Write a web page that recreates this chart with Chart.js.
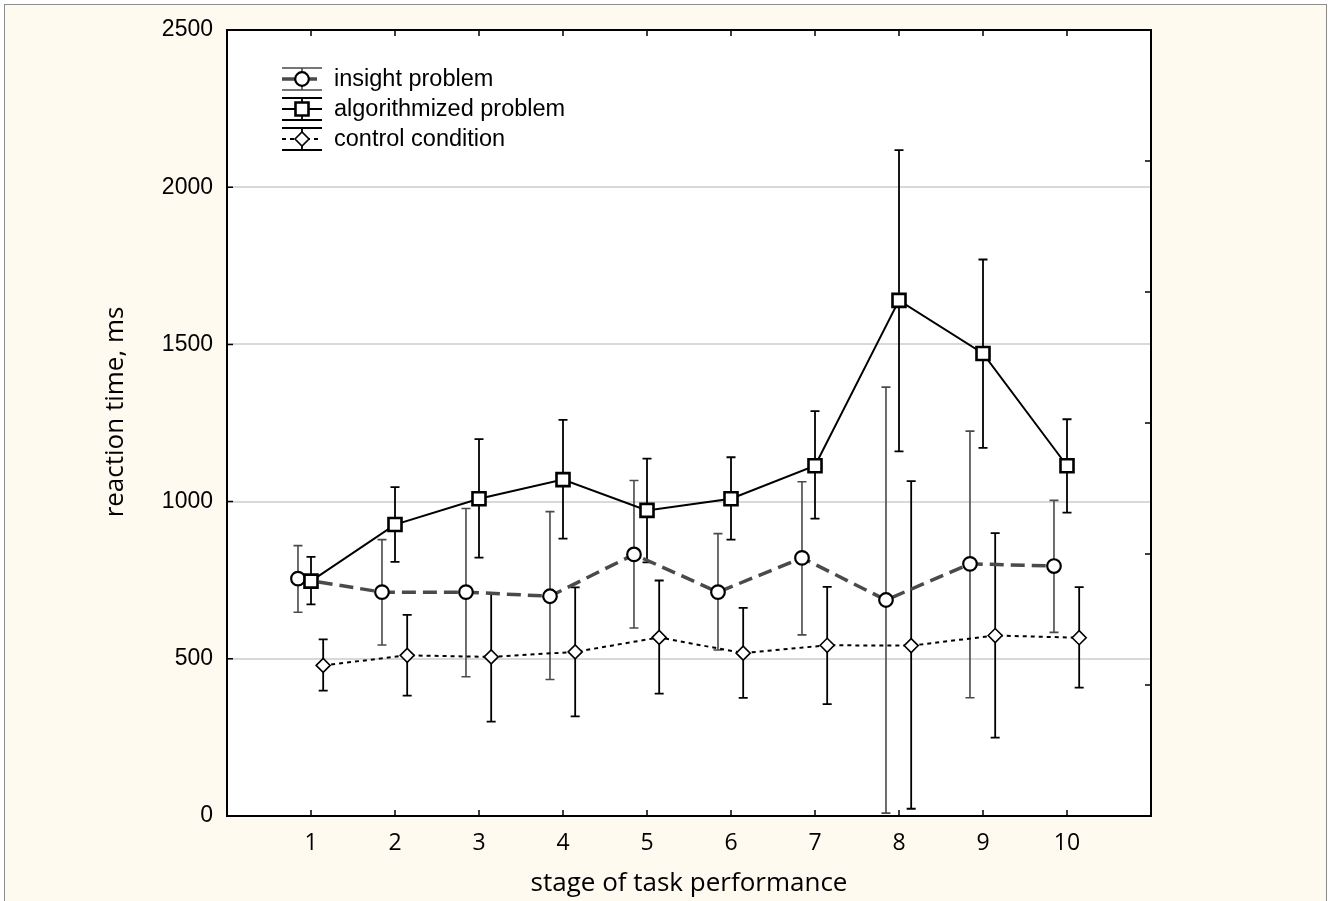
<!DOCTYPE html>
<html>
<head>
<meta charset="utf-8">
<script src="https://cdn.jsdelivr.net/npm/chart.js@4.4.1/dist/chart.umd.min.js"></script>
<style>
  html, body { margin: 0; padding: 0; background: #fff; }
  #frame { position: absolute; left: 4px; top: 4px; width: 1323px; height: 897px; background: #fffaef; border: 1px solid #8c8c8c; border-bottom: none; box-sizing: border-box; }
  #wrap { position: absolute; left: 0; top: 0; width: 1328px; height: 901px; }
</style>
</head>
<body>
<div id="frame"></div>
<div id="wrap"><canvas id="chart" width="1328" height="901"></canvas></div>
<script>
// stages on the x axis
const stages = [1, 2, 3, 4, 5, 6, 7, 8, 9, 10];
const stageLabels = ['1', '2', '3', '4', '5', '6', '7', '8', '9', '10'];
const yTicks = [0, 500, 1000, 1500, 2000, 2500];

// insight problem (mean and error bar ends, ms)
const insightMean = [755, 712, 712, 699, 832, 712, 821, 687, 802, 795];
const insightLow  = [648, 544, 443, 434, 598, 528, 576, 9, 376, 584];
const insightHigh = [860, 879, 978, 968, 1067, 898, 1063, 1364, 1224, 1004];

// algorithmized problem
const algoMean = [747, 927, 1009, 1070, 972, 1009, 1114, 1640, 1471, 1114];
const algoLow  = [673, 808, 822, 882, 807, 879, 946, 1160, 1171, 965];
const algoHigh = [824, 1046, 1199, 1260, 1137, 1141, 1288, 2118, 1770, 1262];

// control condition
const controlMean = [479, 511, 506, 522, 568, 518, 543, 542, 574, 567];
const controlLow  = [399, 383, 300, 317, 389, 376, 356, 23, 249, 408];
const controlHigh = [562, 640, 709, 727, 749, 662, 729, 1065, 900, 728];

const seriesNames = ['insight problem', 'algorithmized problem', 'control condition'];

function points(mean, shift) {
  return stages.map((s, i) => ({ x: s + shift, y: mean[i] }));
}

const sansArial = '"Liberation Sans", Arial, sans-serif';
const sansTitle = '"Open Sans", "Noto Sans", sans-serif';

// error bars, drawn under the lines and markers
const errorBars = {
  id: 'errorBars',
  beforeDatasetsDraw(chart) {
    const ctx = chart.ctx, ys = chart.scales.y;
    chart.data.datasets.forEach((ds, di) => {
      const meta = chart.getDatasetMeta(di);
      ctx.save();
      ctx.strokeStyle = ds.errColor;
      ctx.lineWidth = ds.errWidth;
      meta.data.forEach((el, i) => {
        const x = el.x;
        const y1 = ys.getPixelForValue(ds.errLow[i]);
        const y2 = ys.getPixelForValue(ds.errHigh[i]);
        ctx.beginPath();
        ctx.moveTo(x, y1); ctx.lineTo(x, y2);
        ctx.moveTo(x - 4.5, y1); ctx.lineTo(x + 4.5, y1);
        ctx.moveTo(x - 4.5, y2); ctx.lineTo(x + 4.5, y2);
        ctx.stroke();
      });
      ctx.restore();
    });
  }
};

// white plot area, frame, inward ticks, titles and legend
const decor = {
  id: 'decor',
  beforeDraw(chart) {
    const a = chart.chartArea, ctx = chart.ctx;
    ctx.save();
    ctx.fillStyle = '#ffffff';
    ctx.fillRect(a.left, a.top, a.right - a.left, a.bottom - a.top);
    ctx.restore();
  },
  afterDraw(chart) {
    const a = chart.chartArea, ctx = chart.ctx;
    const xs = chart.scales.x, ys = chart.scales.y;
    ctx.save();
    ctx.strokeStyle = '#000';
    ctx.lineWidth = 2;
    ctx.strokeRect(a.left, a.top, a.right - a.left, a.bottom - a.top);
    ctx.lineWidth = 1.5;
    ctx.beginPath();
    stages.forEach(s => {
      const x = xs.getPixelForValue(s);
      ctx.moveTo(x, a.bottom); ctx.lineTo(x, a.bottom - 6);
      ctx.moveTo(x, a.top); ctx.lineTo(x, a.top + 6);
    });
    yTicks.forEach(v => {
      const y = ys.getPixelForValue(v);
      ctx.moveTo(a.left, y); ctx.lineTo(a.left + 6, y);
    });
    for (let k = 1; k < 6; k++) {
      const y = a.bottom - (a.bottom - a.top) * k / 6;
      ctx.moveTo(a.right, y); ctx.lineTo(a.right - 6, y);
    }
    ctx.stroke();

    // axis titles
    ctx.fillStyle = '#000';
    ctx.font = '26px ' + sansTitle;
    ctx.textAlign = 'center';
    ctx.textBaseline = 'middle';
    ctx.fillText('stage of task performance', (a.left + a.right) / 2, 884);
    ctx.translate(116, 412);
    ctx.rotate(-Math.PI / 2);
    ctx.fillText('reaction time, ms', 0, 0);
    ctx.restore();

    // legend
    ctx.save();
    const rowY = [79, 109, 139];
    const x0 = 282, x1 = 322, xm = 302;
    chart.data.datasets.forEach((ds, di) => {
      const y = rowY[di];
      ctx.strokeStyle = ds.errColor;
      ctx.lineWidth = ds.errWidth;
      ctx.setLineDash([]);
      ctx.beginPath();
      ctx.moveTo(x0, y - 11); ctx.lineTo(x1, y - 11);
      ctx.moveTo(x0, y + 11); ctx.lineTo(x1, y + 11);
      ctx.moveTo(xm, y - 11); ctx.lineTo(xm, y + 11);
      ctx.stroke();
      ctx.strokeStyle = ds.borderColor;
      ctx.lineWidth = ds.borderWidth;
      ctx.setLineDash(ds.borderDash || []);
      ctx.beginPath();
      ctx.moveTo(x0, y); ctx.lineTo(x1, y);
      ctx.stroke();
      ctx.setLineDash([]);
      ctx.fillStyle = '#fff';
      ctx.strokeStyle = '#000';
      ctx.lineWidth = ds.pointBorderWidth;
      Chart.helpers.drawPoint(ctx, { pointStyle: ds.pointStyle, radius: ds.pointRadius, borderWidth: ds.pointBorderWidth, rotation: 0 }, xm, y);
      ctx.fillStyle = '#000';
      ctx.font = '23.5px ' + sansArial;
      ctx.textAlign = 'left';
      ctx.textBaseline = 'middle';
      ctx.fillText(seriesNames[di], 334, y + 1);
    });
    ctx.restore();
  }
};

new Chart(document.getElementById('chart'), {
  type: 'line',
  data: {
    datasets: [
      {
        label: seriesNames[0],
        data: points(insightMean, -0.155),
        borderColor: '#4a4a4a', borderWidth: 3.5, borderDash: [14, 7],
        pointStyle: 'circle', pointRadius: 6.8, pointBorderWidth: 2.2,
        pointBackgroundColor: '#fff', pointBorderColor: '#000',
        errLow: insightLow, errHigh: insightHigh, errColor: '#4a4a4a', errWidth: 1.6,
        order: 1
      },
      {
        label: seriesNames[1],
        data: points(algoMean, 0),
        borderColor: '#000', borderWidth: 2,
        pointStyle: 'rect', pointRadius: 9.2, pointBorderWidth: 2.6,
        pointBackgroundColor: '#fff', pointBorderColor: '#000',
        errLow: algoLow, errHigh: algoHigh, errColor: '#000', errWidth: 1.8,
        order: 0
      },
      {
        label: seriesNames[2],
        data: points(controlMean, 0.145),
        borderColor: '#000', borderWidth: 2, borderDash: [4, 4],
        pointStyle: 'rectRot', pointRadius: 7, pointBorderWidth: 1.6,
        pointBackgroundColor: '#fff', pointBorderColor: '#000',
        errLow: controlLow, errHigh: controlHigh, errColor: '#000', errWidth: 1.8,
        order: 2
      }
    ]
  },
  options: {
    responsive: false,
    animation: false,
    events: [],
    layout: { padding: { top: 30, right: 177, left: 0, bottom: 0 } },
    plugins: { legend: { display: false }, tooltip: { enabled: false } },
    elements: { line: { tension: 0 } },
    scales: {
      x: {
        type: 'linear', min: 0, max: 11,
        afterBuildTicks: s => { s.ticks = stages.map(v => ({ value: v })); },
        afterFit: s => { s.height = 85; },
        grid: { display: false, drawTicks: false },
        border: { display: true, color: '#000', width: 2 },
        ticks: {
          padding: 14, color: '#000',
          font: { family: sansTitle, size: 23 },
          callback: (v, i) => stageLabels[i]
        }
      },
      y: {
        min: 0, max: 2500,
        afterBuildTicks: s => { s.ticks = yTicks.map(v => ({ value: v })); },
        afterFit: s => { s.width = 227; },
        grid: {
          drawTicks: false, lineWidth: 2,
          color: c => (c.tick && (c.tick.value === 0 || c.tick.value === 2500)) ? 'rgba(0,0,0,0)' : '#d9d9d9'
        },
        border: { display: true, color: '#000', width: 2 },
        ticks: {
          padding: 14, color: '#000',
          font: { family: sansArial, size: 23 },
          callback: v => String(v)
        }
      }
    }
  },
  plugins: [errorBars, decor]
});
</script>
</body>
</html>
